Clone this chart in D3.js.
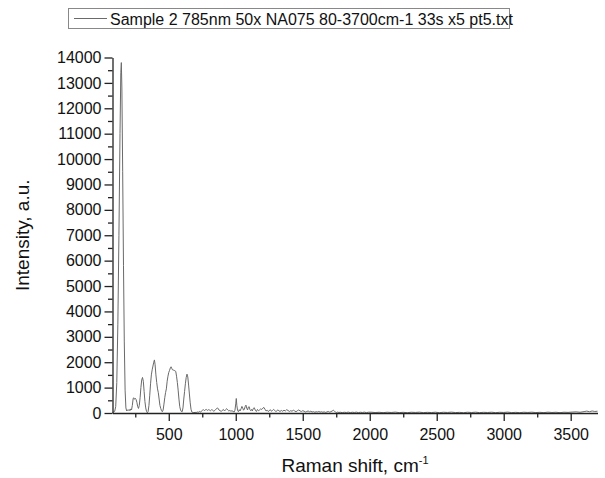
<!DOCTYPE html>
<html>
<head>
<meta charset="utf-8">
<script src="https://cdn.jsdelivr.net/npm/d3@7"></script>
<style>
  html, body { margin: 0; padding: 0; background: #fff; }
  svg { display: block; font-family: "Liberation Sans", Arial, sans-serif; }
</style>
</head>
<body>
<svg id="chart" width="605" height="478"></svg>
<script>
// ---- data ----
const seriesName = "Sample 2 785nm 50x NA075 80-3700cm-1 33s x5 pt5.txt";
const ramanShift = [
  80, 88, 96, 104, 112, 120, 128, 136, 142, 146, 150, 156, 162, 168, 174, 180, 186, 192, 198, 204,
  210, 216, 222, 228, 234, 238, 244, 250, 256, 262, 268, 274, 280, 286, 292, 298, 304, 310, 316, 322,
  328, 334, 340, 346, 352, 358, 364, 370, 376, 382, 388, 393, 398, 404, 410, 416, 422, 428, 434, 440,
  446, 452, 458, 464, 470, 476, 482, 488, 494, 500, 506, 512, 517, 522, 528, 534, 540, 546, 552, 558,
  564, 570, 576, 582, 588, 594, 600, 606, 612, 618, 624, 630, 636, 642, 648, 654, 660, 666, 672, 680,
  688, 696, 704, 712, 720, 728, 736, 744, 752, 760, 766, 772, 780, 788, 796, 804, 812, 820, 828, 836,
  844, 852, 858, 864, 870, 876, 884, 892, 900, 908, 916, 924, 932, 940, 948, 956, 964, 972, 980, 988,
  994, 1000, 1004, 1008, 1014, 1020, 1026, 1032, 1040, 1046, 1052, 1058, 1064, 1070, 1076, 1082, 1088, 1094, 1100, 1106,
  1112, 1118, 1124, 1130, 1138, 1146, 1154, 1162, 1170, 1178, 1186, 1194, 1202, 1210, 1218, 1226, 1234, 1242, 1250, 1258,
  1266, 1274, 1282, 1290, 1298, 1306, 1314, 1322, 1330, 1340, 1350, 1360, 1370, 1380, 1390, 1400, 1410, 1420, 1430, 1440,
  1450, 1460, 1470, 1480, 1490, 1500, 1510, 1520, 1530, 1540, 1550, 1560, 1570, 1580, 1590, 1600, 1610, 1620, 1630, 1640,
  1650, 1660, 1670, 1680, 1690, 1700, 1710, 1720, 1728, 1736, 1744, 1752, 1760, 1770, 1780, 1795, 1810, 1825, 1840, 1855,
  1870, 1885, 1900, 1915, 1930, 1945, 1960, 1975, 1990, 2010, 2040, 2070, 2100, 2130, 2160, 2190, 2220, 2250, 2280, 2310,
  2340, 2370, 2400, 2430, 2460, 2490, 2520, 2550, 2580, 2610, 2640, 2670, 2700, 2730, 2760, 2790, 2820, 2850, 2880, 2910,
  2940, 2970, 3000, 3030, 3060, 3090, 3120, 3150, 3180, 3210, 3240, 3270, 3300, 3330, 3360, 3390, 3420, 3450, 3480, 3510,
  3540, 3570, 3600, 3620, 3640, 3660, 3680, 3700
];
const intensity = [
  20, 40, 60, 250, 1200, 3500, 7000, 11000, 13400, 13800, 12800, 9500, 5800, 2800, 900, 200, 80, 120, 100, 140,
  90, 160, 120, 300, 560, 600, 540, 580, 530, 420, 250, 180, 300, 600, 1000, 1300, 1400, 1250, 850, 450,
  200, 60, 10, 60, 300, 700, 1150, 1500, 1700, 1850, 2000, 2090, 1900, 1500, 1200, 950, 800, 550, 300, 180,
  90, 50, 120, 350, 600, 800, 950, 1250, 1450, 1600, 1680, 1780, 1820, 1760, 1700, 1690, 1680, 1660, 1640, 1450,
  1200, 900, 550, 250, 120, 60, 50, 200, 550, 850, 1150, 1400, 1530, 1420, 1100, 750, 400, 150, 40, 20,
  10, 30, 15, 40, 25, 60, 30, 80, 110, 130, 95, 120, 140, 100, 130, 115, 90, 130, 110, 70,
  100, 150, 180, 200, 160, 110, 90, 60, 110, 140, 80, 130, 170, 120, 80, 100, 70, 90, 60, 40,
  110, 360, 570, 300, 90, 50, 130, 80, 170, 260, 200, 110, 150, 250, 310, 190, 120, 230, 250, 130,
  90, 140, 80, 170, 210, 110, 60, 140, 90, 120, 160, 140, 190, 220, 150, 80, 110, 60, 90, 130,
  70, 100, 140, 110, 60, 80, 120, 90, 60, 100, 70, 110, 80, 130, 100, 60, 90, 70, 110, 80,
  50, 90, 120, 80, 60, 90, 70, 40, 60, 80, 50, 70, 40, 55, 30, 50, 40, 60, 35, 50,
  30, 45, 25, 40, 60, 35, 50, 80, 110, 70, 40, 20, 35, 20, 30, 15, 30, 20, 35, 15,
  30, 20, 35, 15, 30, 20, 35, 15, 30, 32, 18, 28, 14, 30, 20, 35, 16, 27, 12, 30,
  22, 33, 15, 26, 18, 31, 13, 29, 21, 34, 17, 25, 12, 30, 19, 33, 15, 27, 20, 31,
  14, 28, 22, 35, 16, 26, 13, 30, 21, 32, 17, 27, 15, 33, 20, 29, 14, 31, 24, 36,
  45, 30, 55, 75, 50, 80, 60, 70
];
const xMajorTicks = [500, 1000, 1500, 2000, 2500, 3000, 3500];
const xMinorTicks = [250, 750, 1250, 1750, 2250, 2750, 3250];
const yMajorTicks = [0, 1000, 2000, 3000, 4000, 5000, 6000, 7000, 8000, 9000, 10000, 11000, 12000, 13000, 14000];
const yMinorTicks = [500, 1500, 2500, 3500, 4500, 5500, 6500, 7500, 8500, 9500, 10500, 11500, 12500, 13500];
const xTitle = "Raman shift, cm";
const xTitleSup = "-1";
const yTitle = "Intensity, a.u.";

// ---- layout ----
const svg = d3.select("#chart");
const plotLeft = 112.5, plotRight = 597.5, plotTop = 57.5, plotBottom = 413;
const axisColor = "#222";

const x = d3.scaleLinear().domain([80, 3700]).range([plotLeft, plotRight]);
const y = d3.scaleLinear().domain([0, 14000]).range([plotBottom, plotTop]);

const data = ramanShift.map((v, i) => ({ x: v, y: intensity[i] }));

// spectrum line
svg.append("path")
  .datum(data)
  .attr("fill", "none")
  .attr("stroke", "#6a6a6a")
  .attr("stroke-width", 1)
  .attr("stroke-linejoin", "round")
  .attr("d", d3.line().x(d => x(d.x)).y(d => y(d.y)));

// x axis
const gx = svg.append("g").attr("transform", `translate(0,${plotBottom})`);
gx.call(d3.axisBottom(x).tickValues(xMajorTicks).tickSize(8).tickPadding(8).tickSizeOuter(0).tickFormat(d3.format("d")));
const gxm = svg.append("g").attr("transform", `translate(0,${plotBottom})`);
gxm.call(d3.axisBottom(x).tickValues(xMinorTicks).tickSize(4.5).tickSizeOuter(0).tickFormat(""));
gxm.select(".domain").remove();

// y axis
const gy = svg.append("g").attr("transform", `translate(${plotLeft},0)`);
gy.call(d3.axisLeft(y).tickValues(yMajorTicks).tickSize(8).tickPadding(3).tickSizeOuter(0).tickFormat(d3.format("d")));
const gym = svg.append("g").attr("transform", `translate(${plotLeft},0)`);
gym.call(d3.axisLeft(y).tickValues(yMinorTicks).tickSize(4.5).tickSizeOuter(0).tickFormat(""));
gym.select(".domain").remove();

svg.selectAll(".domain, .tick line").attr("stroke", axisColor).attr("stroke-width", 1.3);
svg.selectAll(".tick text")
  .attr("fill", "#111")
  .style("font-size", "16px")
  .style("font-family", "'Liberation Sans', Arial, sans-serif");

// axis titles
const xt = svg.append("text")
  .attr("x", (plotLeft + plotRight) / 2)
  .attr("y", 472)
  .attr("text-anchor", "middle")
  .style("font-size", "19px")
  .attr("fill", "#111");
xt.append("tspan").text(xTitle);
xt.append("tspan").attr("dy", -8).style("font-size", "11px").text(xTitleSup);

svg.append("text")
  .attr("transform", `translate(29,${(plotTop + plotBottom) / 2}) rotate(-90)`)
  .attr("text-anchor", "middle")
  .style("font-size", "19px")
  .attr("fill", "#111")
  .text(yTitle);

// legend
const lg = svg.append("g");
lg.append("rect")
  .attr("x", 68.5).attr("y", 8.5).attr("width", 441).attr("height", 20)
  .attr("fill", "#fff").attr("stroke", "#888").attr("stroke-width", 1);
lg.append("line")
  .attr("x1", 74).attr("x2", 107).attr("y1", 18.5).attr("y2", 18.5)
  .attr("stroke", "#6a6a6a").attr("stroke-width", 1);
lg.append("text")
  .attr("x", 110).attr("y", 24.5)
  .style("font-size", "16px")
  .attr("fill", "#111")
  .text(seriesName);
</script>
</body>
</html>
